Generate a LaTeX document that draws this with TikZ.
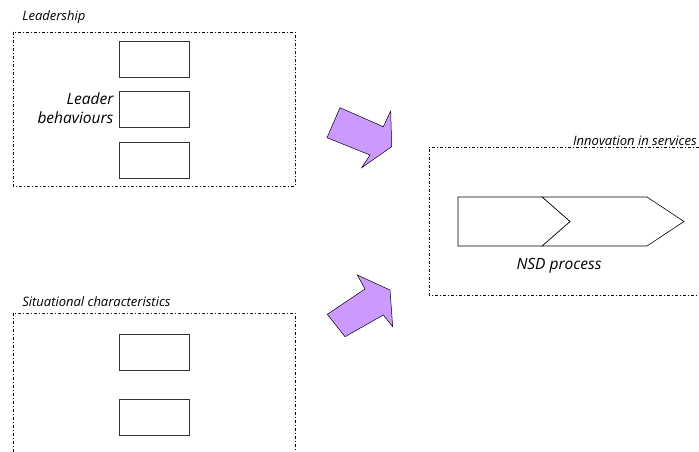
\documentclass[tikz,border=0pt]{standalone}
\usepackage{fontspec}
\setmainfont{Open Sans}
\usetikzlibrary{positioning}
\definecolor{lilac}{RGB}{204,153,255}

\begin{document}
\begin{tikzpicture}[x=1pt,y=-1pt,font=\itshape,node distance=14pt,line width=0.6pt]
	
	\tikzset{frame/.style={draw=black, line width=0.6pt,
			dash pattern=on 3pt off 2pt on 1pt off 2pt}}
	\tikzset{factor/.style={draw=black!80, rectangle,
			minimum width=70pt, minimum height=36pt, inner sep=0pt}}
	\tikzset{caption/.style={font=\itshape\fontsize{13}{15}\selectfont, inner sep=0pt}}
	\tikzset{fat arrow/.style={draw=black, fill=lilac, line width=0.5pt, line join=miter}}
	\tikzset{stage/.style={draw=black, fill=white, line width=0.6pt}}
	
	\useasboundingbox (0,0) rectangle (699,452);
	
	% leadership
	\node[caption, anchor=base west] (lead) at (22,21) {Leadership};
	\draw[frame] (13,32) rectangle (295,186);
	\node[factor] (lb1) at (154,59) {};
	\node[factor, below=of lb1] (lb2) {};
	\node[factor, below=of lb2] (lb3) {};
	\node[left=5pt of lb2, align=right, inner sep=0pt, yshift=1pt,
		font=\itshape\fontsize{15.5}{19}\selectfont] (beh) {Leader\\behaviours};
	
	% situational characteristics
	\node[caption, anchor=base west] (sit) at (22,306) {Situational characteristics};
	\draw[frame] (13,452) -- (13,313) -- (295,313) -- (295,452);
	\node[factor] (sb1) at (154,352.5) {};
	\node[factor, below=28pt of sb1] (sb2) {};
	
	% arrows
	\draw[fat arrow] (340,107.7) -- (383.3,126.7) -- (390.7,111) -- (391.7,146.7)
		-- (361.7,167.7) -- (370,155) -- (327,137.7) -- cycle;
	\draw[fat arrow] (327.3,314.3) -- (365,289) -- (357.3,275) -- (390,290)
		-- (392.7,326.7) -- (383.3,315) -- (345,336.7) -- cycle;
	
	% innovation in services
	\node[caption, anchor=base east] (inno) at (697,145) {Innovation in services};
	\draw[frame] (699,147) -- (429,147) -- (429,295) -- (699,295);
	\draw[stage] (542,197) -- (647,197) -- (684,221.5) -- (647,246) -- (542,246) -- (570,221.5) -- cycle;
	\draw[stage] (458,197) -- (542,197) -- (570,221.5) -- (542,246) -- (458,246) -- cycle;
	\node[anchor=base, inner sep=0pt, font=\itshape\fontsize{15.5}{18}\selectfont] (nsd) at (559,269.5) {NSD process};
	
\end{tikzpicture}
\end{document}
